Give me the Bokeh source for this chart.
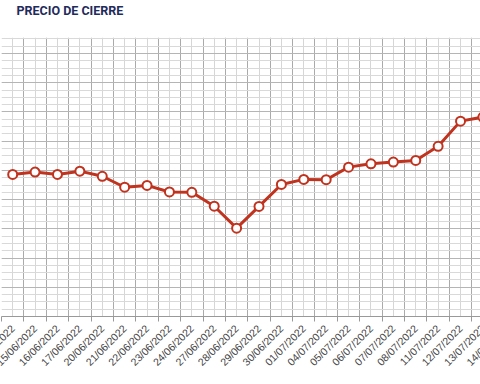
from bokeh.plotting import figure
from bokeh.models import Range1d, FixedTicker, ColumnDataSource
from bokeh.embed import file_html
from bokeh.resources import INLINE
import math

dates = ["14/06/2022", "15/06/2022", "16/06/2022", "17/06/2022", "20/06/2022",
         "21/06/2022", "22/06/2022", "23/06/2022", "24/06/2022", "27/06/2022",
         "28/06/2022", "29/06/2022", "30/06/2022", "01/07/2022", "04/07/2022",
         "05/07/2022", "06/07/2022", "07/07/2022", "08/07/2022", "11/07/2022",
         "12/07/2022", "13/07/2022", "14/07/2022"]
precio = [19.45, 19.77, 19.45, 19.9, 19.2, 17.7, 17.95, 17.05, 17.0, 15.1,
          12.1, 15.07, 18.08, 18.77, 18.73, 20.45, 20.9, 21.15, 21.37, 23.3,
          26.75, 27.3, 27.6]

idx = list(range(len(dates)))
src = ColumnDataSource(dict(x=idx, y=precio))

LEFT = 40          # hidden canvas room on the left (the source image is cropped)
FRAME_W = 515      # plot frame runs past the visible window (cropped on the right)
TOP_SHIFT = 23

p = figure(width=LEFT + FRAME_W, height=384 + TOP_SHIFT, output_backend="svg",
           toolbar_location=None,
           x_range=Range1d(-0.5, len(dates) - 0.5), y_range=Range1d(0, 38.2),
           min_border_left=LEFT, min_border_right=0, min_border_top=37 + TOP_SHIFT,
           min_border_bottom=68, title="PRECIO DE CIERRE",
           styles={"margin-left": f"-{LEFT - 1}px", "margin-top": f"-{TOP_SHIFT}px"})
p.outline_line_color = None
p.background_fill_color = "white"
p.border_fill_color = "white"

p.title.text_font = "Roboto"
p.title.text_font_style = "bold"
p.title.text_font_size = "12.5px"
p.title.text_color = "#1f2b5b"
p.title.offset = 15
p.title.standoff = 39

bounds = [i - 0.5 for i in idx] + [idx[-1] + 0.5]
p.xaxis.ticker = FixedTicker(ticks=idx, minor_ticks=bounds)
p.xaxis.major_label_overrides = {i: d for i, d in zip(idx, dates)}
p.xaxis.major_label_orientation = math.pi / 4
p.xaxis.major_label_text_font = "Liberation Sans"
p.xaxis.major_label_text_font_size = "10.5px"
p.xaxis.major_label_text_color = "#444444"
p.xaxis.major_label_standoff = 5
p.xaxis.major_tick_out = 0
p.xaxis.major_tick_in = 0
p.xaxis.minor_tick_out = 5
p.xaxis.minor_tick_in = 0
p.xaxis.minor_tick_line_color = "#999999"
p.xaxis.axis_line_color = "#999999"

p.xgrid.grid_line_color = "#d6d6d6"
p.xgrid.minor_grid_line_color = "#aaaaaa"

p.yaxis.visible = False
p.ygrid.ticker = FixedTicker(ticks=list(range(0, 39, 4)), minor_ticks=list(range(0, 39)))
p.ygrid.grid_line_color = "#b5b5b5"
p.ygrid.minor_grid_line_color = "#d9d9d9"

p.line("x", "y", source=src, line_color="#bf331f", line_width=3)
p.scatter("x", "y", source=src, size=9, fill_color="white", line_color="#bf331f", line_width=2)

open("out.html", "w").write(file_html(p, INLINE))
